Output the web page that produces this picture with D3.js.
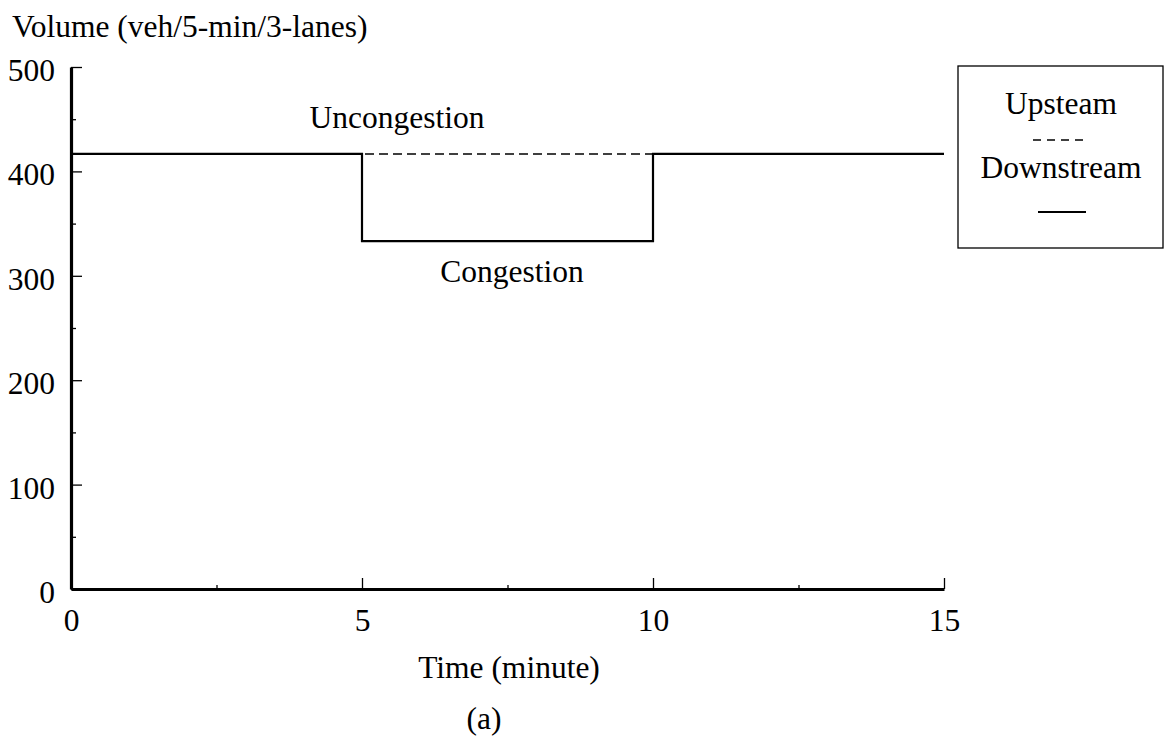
<!DOCTYPE html>
<html>
<head>
<meta charset="utf-8">
<script src="https://cdn.jsdelivr.net/npm/d3@7"></script>
<style>
body { margin: 0; background: #fff; }
svg text { font-family: "Liberation Serif", "Times New Roman", serif; fill: #000; }
</style>
</head>
<body>
<svg width="1168" height="742"></svg>
<script>
// values
const upTimes = [0, 15]
const upVolumes = [416.7, 416.7]
const downTimes = [0, 5, 5, 10, 10, 15]
const downVolumes = [416.7, 416.7, 333.3, 333.3, 416.7, 416.7]
const xTicks = [0, 5, 10, 15]
const xMinorTicks = [2.5, 7.5, 12.5]
const yTicks = [0, 100, 200, 300, 400, 500]
const yMinorTicks = [50, 150, 250, 350, 450]
const legendNames = ["Upsteam", "Downstream"]

const svg = d3.select("svg")
const fontSize = 31.5

var xScale = d3.scaleLinear()
	.domain([0, 15])
	.range([71, 944])

var yScale = d3.scaleLinear()
	.domain([0, 500])
	.range([589, 67])

// minor ticks
svg.append("g")
	.attr("transform", "translate(" + xScale(0) + ",0)")
	.call(d3.axisLeft(yScale).tickValues(yMinorTicks).tickSize(-5).tickFormat(""))
	.call(g => g.select(".domain").remove())
svg.append("g")
	.attr("transform", "translate(0," + yScale(0) + ")")
	.call(d3.axisBottom(xScale).tickValues(xMinorTicks).tickSize(-4).tickFormat(""))
	.call(g => g.select(".domain").remove())

// y axis
var yAxis = svg.append("g")
	.attr("transform", "translate(" + xScale(0) + ",0)")
	.call(d3.axisLeft(yScale).tickValues(yTicks).tickSizeInner(-11).tickSizeOuter(0).tickPadding(16))
yAxis.selectAll("text").attr("dy", "0.43em")

// x axis
var xAxis = svg.append("g")
	.attr("transform", "translate(0," + yScale(0) + ")")
	.call(d3.axisBottom(xScale).tickValues(xTicks).tickSizeInner(-11).tickSizeOuter(0).tickPadding(20))

svg.selectAll(".tick text").style("font-size", fontSize + "px").style("font-family", "Liberation Serif")
svg.selectAll(".tick line").attr("stroke", "#000").attr("stroke-width", 1.3)
svg.selectAll(".domain").attr("stroke", "#000").attr("stroke-width", 3.2)

// lines
var line = d3.line()
	.x(d => xScale(d[0]))
	.y(d => yScale(d[1]))

svg.append("path")
	.datum(upTimes.map((t, i) => [t, upVolumes[i]]))
	.attr("d", line)
	.attr("fill", "none")
	.attr("stroke", "#000")
	.attr("stroke-width", 1.5)
	.attr("stroke-dasharray", "9,5")

svg.append("path")
	.datum(downTimes.map((t, i) => [t, downVolumes[i]]))
	.attr("d", line)
	.attr("fill", "none")
	.attr("stroke", "#000")
	.attr("stroke-width", 2.2)

// annotations
svg.append("text").attr("x", 12).attr("y", 37)
	.style("font-size", fontSize + "px")
	.text("Volume (veh/5-min/3-lanes)")
svg.append("text").attr("x", 397).attr("y", 128)
	.attr("text-anchor", "middle")
	.style("font-size", fontSize + "px")
	.text("Uncongestion")
svg.append("text").attr("x", 512).attr("y", 282)
	.attr("text-anchor", "middle")
	.style("font-size", fontSize + "px")
	.text("Congestion")
svg.append("text").attr("x", 509).attr("y", 678)
	.attr("text-anchor", "middle")
	.style("font-size", fontSize + "px")
	.text("Time (minute)")
svg.append("text").attr("x", 484).attr("y", 729)
	.attr("text-anchor", "middle")
	.style("font-size", fontSize + "px")
	.text("(a)")

// legend
var legend = svg.append("g")
legend.append("rect")
	.attr("x", 958).attr("y", 66)
	.attr("width", 205).attr("height", 182)
	.attr("fill", "none").attr("stroke", "#000").attr("stroke-width", 1.3)
legend.append("text").attr("x", 1061).attr("y", 114)
	.attr("text-anchor", "middle")
	.style("font-size", fontSize + "px")
	.text(legendNames[0])
legend.append("line")
	.attr("x1", 1033).attr("x2", 1084).attr("y1", 140).attr("y2", 140)
	.attr("stroke", "#000").attr("stroke-width", 1.3).attr("stroke-dasharray", "8,6")
legend.append("text").attr("x", 1061).attr("y", 178)
	.attr("text-anchor", "middle")
	.style("font-size", fontSize + "px")
	.text(legendNames[1])
legend.append("line")
	.attr("x1", 1038).attr("x2", 1086).attr("y1", 212).attr("y2", 212)
	.attr("stroke", "#000").attr("stroke-width", 2)
</script>
</body>
</html>
